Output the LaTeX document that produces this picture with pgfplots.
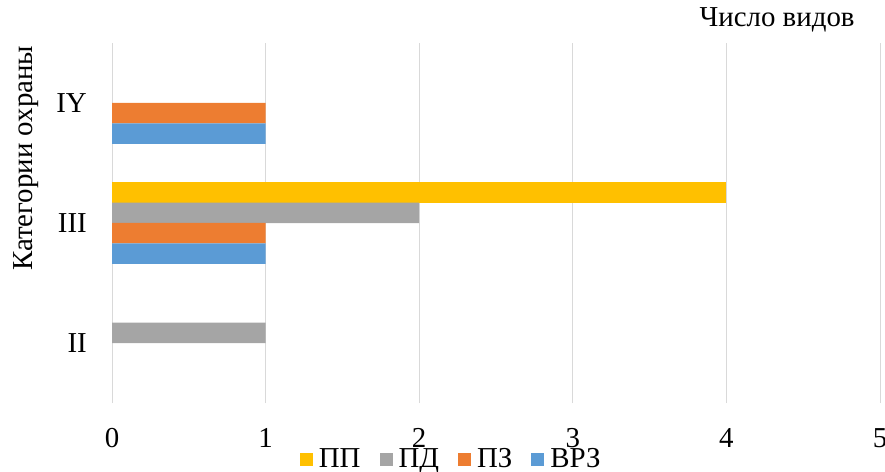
\documentclass[border=0pt]{standalone}
\usepackage{fontspec}
\setmainfont{Liberation Serif}
\usepackage{pgfplots}
\pgfplotsset{compat=1.18}
\definecolor{cPP}{HTML}{FFC000}
\definecolor{cPD}{HTML}{A5A5A5}
\definecolor{cPZ}{HTML}{ED7D31}
\definecolor{cVRZ}{HTML}{5B9BD5}
\definecolor{cGrid}{HTML}{D9D9D9}
\begin{document}
\begin{tikzpicture}[font=\fontsize{29}{32}\selectfont]
\begin{axis}[name=ax,
  scale only axis, width=768bp, height=360bp,
  xmin=0, xmax=5, ymin=0.5, ymax=3.5,
  xtick={0,1,2,3,4,5}, ytick={1,2,3}, yticklabels={II,III,IY},
  /pgf/number format/assume math mode=true,
  axis line style={draw=none},
  major tick length=0pt,
  xmajorgrids, grid style={draw=cGrid, line width=0.9bp},
  xticklabel style={anchor=base, yshift=-44bp, inner sep=0pt},
  yticklabel style={anchor=east, xshift=-25bp, inner sep=0pt},
  title={Число видов},
  title style={at={(axis description cs:0.866,1.028)}, anchor=base, inner sep=0pt},
  ylabel={Категории охраны},
  ylabel style={at={(axis description cs:-0.104,0.68)}, anchor=base, inner sep=0pt},
  legend columns=-1,
  legend style={at={(axis description cs:0.441,-0.156)}, anchor=center, draw=none,
    fill=none, inner sep=0pt, nodes={inner sep=1bp},
    /tikz/column sep=5bp,
    /tikz/every even column/.append style={column sep=18bp}},
  legend image code/.code={\fill[#1] (0bp,-6.5bp) rectangle (13bp,6.5bp);},
]
\addplot[xbar, bar width=0.171, bar shift=0.256, fill=cPP, draw=none] coordinates {(4,2)};
\addplot[xbar, bar width=0.171, bar shift=0.085, fill=cPD, draw=none] coordinates {(1,1) (2,2)};
\addplot[xbar, bar width=0.171, bar shift=-0.085, fill=cPZ, draw=none] coordinates {(1,2) (1,3)};
\addplot[xbar, bar width=0.171, bar shift=-0.256, fill=cVRZ, draw=none] coordinates {(1,2) (1,3)};
\legend{ПП, ПД, ПЗ, ВРЗ}
\end{axis}
\pgfresetboundingbox
\path[use as bounding box] ([xshift=-112bp,yshift=-68bp]ax.south west) rectangle ([xshift=5bp,yshift=43bp]ax.north east);
\end{tikzpicture}
\end{document}
